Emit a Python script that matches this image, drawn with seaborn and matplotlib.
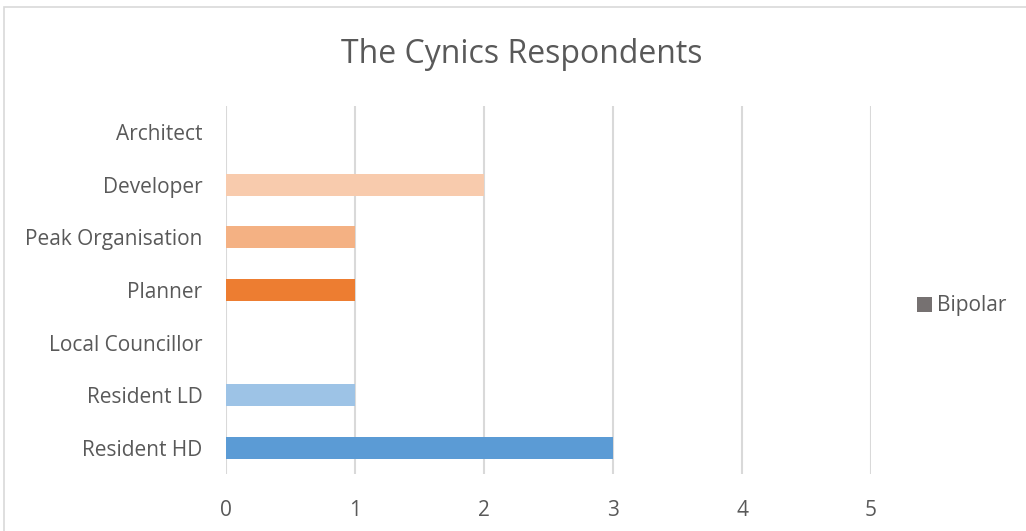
import matplotlib
matplotlib.use("Agg")
import matplotlib.pyplot as plt
from matplotlib.patches import Rectangle, Patch
import seaborn as sns
import pandas as pd

categories = ["Architect", "Developer", "Peak Organisation", "Planner",
              "Local Councillor", "Resident LD", "Resident HD"]
values = [0, 2, 1, 1, 0, 1, 3]
bar_colors = ["#A5A5A5", "#F8CBAD", "#F4B183", "#ED7D31",
              "#C55A11", "#9DC3E6", "#5B9BD5"]
series_name = "Bipolar"
title = "The Cynics Respondents"
x_ticks = [0, 1, 2, 3, 4, 5]

sns.set_theme(style="white")
plt.rcParams["font.family"] = ["Open Sans", "DejaVu Sans"]

df = pd.DataFrame({"role": categories, "count": values})

fig = plt.figure(figsize=(10.26, 5.31), dpi=100)
ax = fig.add_axes([0.2203, 0.1073, 0.849 - 0.2203, 0.8004 - 0.1073])

sns.barplot(data=df, x="count", y="role", hue="role", order=categories,
            palette=dict(zip(categories, bar_colors)), width=0.42,
            legend=False, ax=ax, saturation=1, linewidth=0)

ax.set_xlim(0, 5)
ax.set_ylim(len(categories) - 0.5, -0.5)
ax.set_xticks(x_ticks)
ax.set_xticklabels([str(t) for t in x_ticks])
ax.xaxis.grid(True, color="#D9D9D9", linewidth=1.5)
ax.yaxis.grid(False)
ax.set_axisbelow(True)
for s in ax.spines.values():
    s.set_visible(False)
ax.set_xlabel("")
ax.set_ylabel("")
ax.tick_params(axis="x", length=0, pad=19, labelsize=15, labelcolor="#595959")
ax.tick_params(axis="y", length=0, pad=17, labelsize=15, labelcolor="#595959")

fig.text(0.5083, 0.898, title, ha="center", va="center",
         fontsize=23, color="#595959")

handles = [Patch(facecolor="#767171", edgecolor="none", label=series_name)]
fig.legend(handles=handles, loc="center left", bbox_to_anchor=(0.875, 0.424),
           frameon=False, fontsize=15, handlelength=0.72, handleheight=0.72,
           handletextpad=0.25, labelcolor="#595959")

# outer chart border
fig.patches.append(Rectangle((4 / 1026, -0.05), 1.1, 1 - 7 / 531 + 0.05,
                             transform=fig.transFigure, fill=False,
                             edgecolor="#D9D9D9", linewidth=1.2))

fig.savefig("out.png", dpi=100)
